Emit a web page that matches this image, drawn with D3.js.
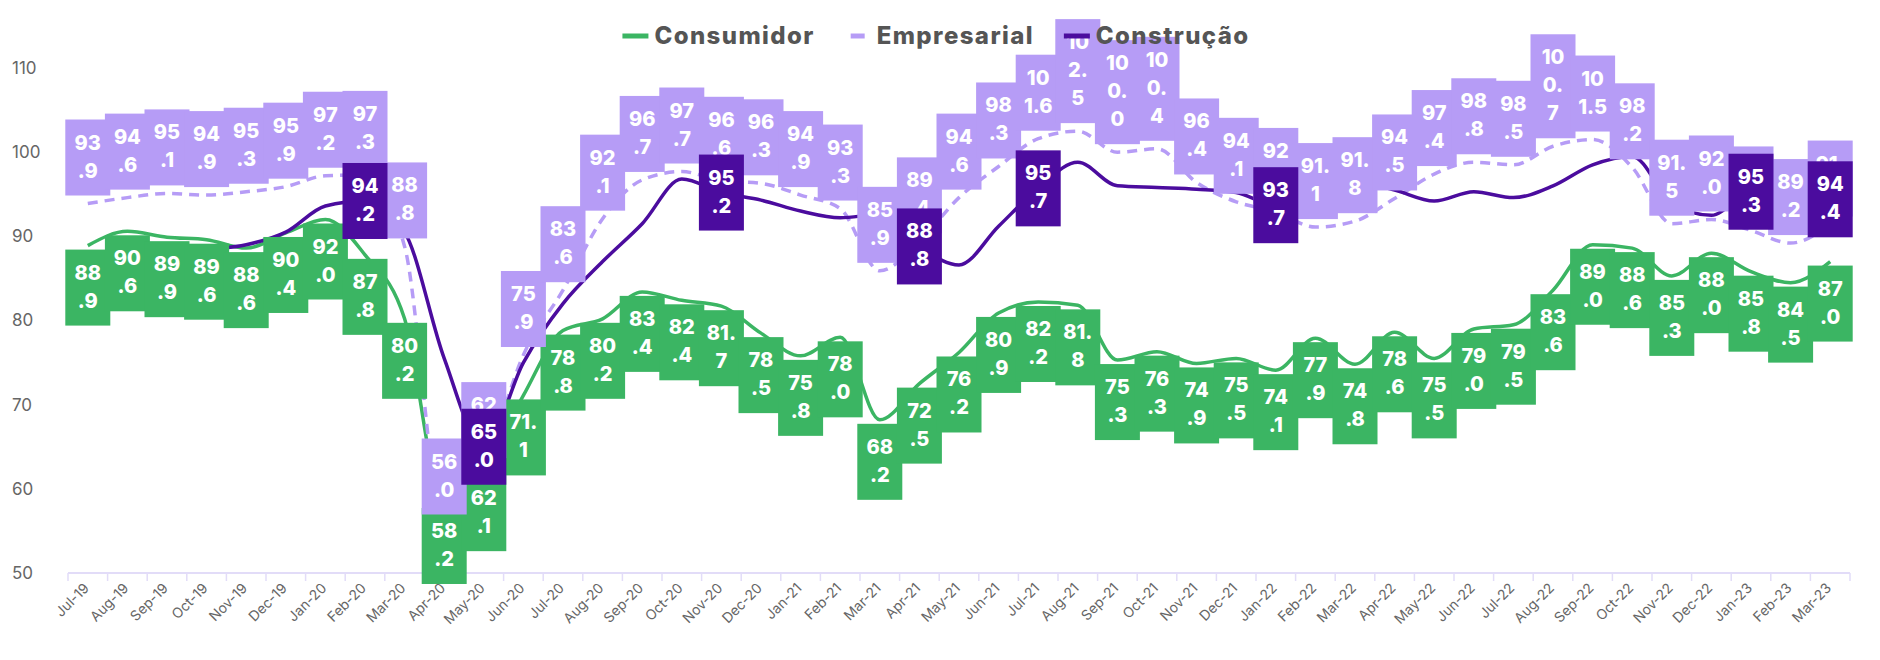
<!DOCTYPE html>
<html>
<head>
<meta charset="utf-8">
<script src="https://cdn.jsdelivr.net/npm/d3@7"></script>
<style>
  body { margin: 0; background: #fff; }
  svg { display: block; font-family: Inter, "Open Sans", sans-serif; }
</style>
</head>
<body>
<script>
// data
var months = ["Jul-19","Aug-19","Sep-19","Oct-19","Nov-19","Dec-19",
  "Jan-20","Feb-20","Mar-20","Apr-20","May-20","Jun-20","Jul-20","Aug-20","Sep-20","Oct-20","Nov-20","Dec-20",
  "Jan-21","Feb-21","Mar-21","Apr-21","May-21","Jun-21","Jul-21","Aug-21","Sep-21","Oct-21","Nov-21","Dec-21",
  "Jan-22","Feb-22","Mar-22","Apr-22","May-22","Jun-22","Jul-22","Aug-22","Sep-22","Oct-22","Nov-22","Dec-22",
  "Jan-23","Feb-23","Mar-23"];

var consumidor = [88.9, 90.6, 89.9, 89.6, 88.6, 90.4,
  92.0, 87.8, 80.2, 58.2, 62.1, 71.1, 78.8, 80.2, 83.4, 82.4, 81.7, 78.5,
  75.8, 78.0, 68.2, 72.5, 76.2, 80.9, 82.2, 81.8, 75.3, 76.3, 74.9, 75.5,
  74.1, 77.9, 74.8, 78.6, 75.5, 79.0, 79.5, 83.6, 89.0, 88.6, 85.3, 88.0,
  85.8, 84.5, 87.0];

var empresarial = [93.9, 94.6, 95.1, 94.9, 95.3, 95.9,
  97.2, 97.3, 88.8, 56.0, 62.7, 75.9, 83.6, 92.1, 96.7, 97.7, 96.6, 96.3,
  94.9, 93.3, 85.9, 89.4, 94.6, 98.3, 101.6, 102.5, 100.0, 100.4, 96.4, 94.1,
  92.9, 91.1, 91.8, 94.5, 97.4, 98.8, 98.5, 100.7, 101.5, 98.2, 91.5, 92.0,
  90.7, 89.2, 91.4];

var construcao = [86.5, 87.0, 87.8, 88.4, 89.0, 90.5,
  93.6, 94.2, 90.5, 75.5, 65.0, 75.0, 82.0, 87.0, 91.5, 96.8, 95.2, 94.3,
  93.0, 92.2, 92.6, 88.8, 86.6, 91.2, 95.7, 98.8, 96.0, 95.8, 95.6, 95.2,
  93.7, 95.0, 96.5, 95.5, 94.2, 95.3, 94.6, 96.0, 98.5, 99.5, 94.0, 92.5,
  95.3, 93.0, 94.4];

// months where the Construção value is written in a box
var construcaoLabels = ["Feb-20","May-20","Nov-20","Apr-21","Jul-21","Jan-22","Jan-23","Mar-23"];

var yTicks = [50, 60, 70, 80, 90, 100, 110];

var seriesNames = ["Consumidor", "Empresarial", "Construção"];
var seriesColors = ["#3bb563", "#b69cf6", "#4b0c9e"];

// setup svg
var width = 1880, height = 660;
var svg = d3.select("body").append("svg")
            .attr("width", width)
            .attr("height", height);

var x = d3.scaleBand().domain(months).range([68, 1850]).padding(0);
var y = d3.scaleLinear().domain([50, 110]).range([573, 68]);
var cx = function(m) { return x(m) + x.bandwidth() / 2; };

// y labels, left aligned, no grid
svg.append("g").classed("y_labels", true)
   .selectAll("text")
   .data(yTicks)
   .enter()
     .append("text")
     .attr("x", 12)
     .attr("y", function(d) { return y(d); })
     .attr("dy", "0.35em")
     .attr("fill", "#666")
     .style("font-size", "17px")
     .text(function(d) { return d; });

// x axis: baseline, ticks between categories, rotated labels
var xAxis = svg.append("g").classed("x_axis", true);
xAxis.append("line")
     .attr("x1", x.range()[0]).attr("x2", x.range()[1])
     .attr("y1", y(50)).attr("y2", y(50))
     .attr("stroke", "#e2dcf8").attr("stroke-width", 2);
xAxis.selectAll("line.tick")
     .data(months.concat(["end"]))
     .enter()
       .append("line")
       .classed("tick", true)
       .attr("x1", function(d) { return d == "end" ? x.range()[1] : x(d); })
       .attr("x2", function(d) { return d == "end" ? x.range()[1] : x(d); })
       .attr("y1", y(50)).attr("y2", y(50) + 8)
       .attr("stroke", "#e2dcf8").attr("stroke-width", 1.5);
xAxis.selectAll("text")
     .data(months)
     .enter()
       .append("text")
       .attr("transform", function(d) { return "translate(" + (cx(d) + 2) + "," + (y(50) + 16) + ") rotate(-45)"; })
       .attr("text-anchor", "end")
       .attr("fill", "#666")
       .style("font-size", "14px")
       .text(function(d) { return d; });

// lines
var allSeries = [consumidor, empresarial, construcao];
var line = d3.line()
             .x(function(d, i) { return cx(months[i]); })
             .y(function(d) { return y(d); })
             .curve(d3.curveMonotoneX);

svg.append("g").classed("lines", true)
   .selectAll("path")
   .data(allSeries)
   .enter()
     .append("path")
     .attr("d", function(d) { return line(d); })
     .attr("fill", "none")
     .attr("stroke", function(d, i) { return seriesColors[i]; })
     .attr("stroke-width", 3.5)
     .attr("stroke-dasharray", function(d, i) { return i == 1 ? "10,7" : null; });

// labels wrap like in the narrow boxes: '1' and '.' are narrow
function wrapValue(str) {
    var w = function(c) { return c == "1" ? 0.6 : (c == "." ? 0.35 : 1); };
    var lines = [], cur = "", curW = 0;
    str.split("").forEach(function(c) {
        if (cur != "" && curW + w(c) > 2.1) { lines.push(cur); cur = ""; curW = 0; }
        cur += c; curW += w(c);
    });
    lines.push(cur);
    return lines;
}

var boxW = 45, lineH = 28, pad = 10;

function drawLabels(values, si, filter) {
    var pts = values.map(function(v, i) { return { m: months[i], v: v }; })
                    .filter(function(d) { return !filter || filter.indexOf(d.m) >= 0; });
    var g = svg.append("g").classed("labels_" + si, true);
    var lbl = g.selectAll("g.lbl")
               .data(pts)
               .enter()
                 .append("g")
                 .classed("lbl", true)
                 .attr("transform", function(d) {
                     var n = wrapValue(d.v.toFixed(1)).length;
                     var h = n * lineH + 2 * pad;
                     var top;
                     if (si == 0) top = y(d.v) + 4;          // below the point
                     else if (si == 1) top = y(d.v) - 8 - h; // above the point
                     else top = y(d.v) - h / 2;              // centred
                     return "translate(" + (cx(d.m) - boxW / 2) + "," + top + ")";
                 });
    lbl.append("rect")
       .attr("width", boxW)
       .attr("height", function(d) { return wrapValue(d.v.toFixed(1)).length * lineH + 2 * pad; })
       .attr("fill", seriesColors[si]);
    lbl.each(function(d) {
        var t = d3.select(this).append("text")
                  .attr("text-anchor", "middle")
                  .attr("fill", "#fff")
                  .style("font-size", "20px")
                  .style("font-weight", 800);
        wrapValue(d.v.toFixed(1)).forEach(function(s, k) {
            t.append("tspan")
             .attr("x", boxW / 2)
             .attr("y", pad + 20 + k * lineH)
             .text(s);
        });
    });
}

drawLabels(consumidor, 0);
drawLabels(empresarial, 1);
drawLabels(construcao, 2, construcaoLabels);

// legend on top
var legend = svg.append("g").classed("legend", true);
var items = legend.selectAll("g.item")
                  .data(seriesNames)
                  .enter()
                    .append("g")
                    .classed("item", true);
items.append("line")
     .attr("x1", function(d, i) { return i == 1 ? 6 : 0; })
     .attr("x2", function(d, i) { return i == 1 ? 20 : 26; })
     .attr("y1", 0).attr("y2", 0)
     .attr("stroke", function(d, i) { return seriesColors[i]; })
     .attr("stroke-width", 5);
items.append("text")
     .attr("x", 32)
     .attr("dy", "0.35em")
     .attr("fill", "#555")
     .style("font-size", "24px")
     .style("font-weight", 800)
     .style("letter-spacing", "1.4px")
     .text(function(d) { return d; });

var gap = 30, offs = [], pos = 0;
items.each(function() {
    offs.push(pos);
    pos += 32 + d3.select(this).select("text").node().getComputedTextLength() + gap;
});
var total = pos - gap;
var startX = 936 - total / 2;
items.attr("transform", function(d, i) { return "translate(" + (startX + offs[i]) + ",36)"; });
</script>
</body>
</html>
